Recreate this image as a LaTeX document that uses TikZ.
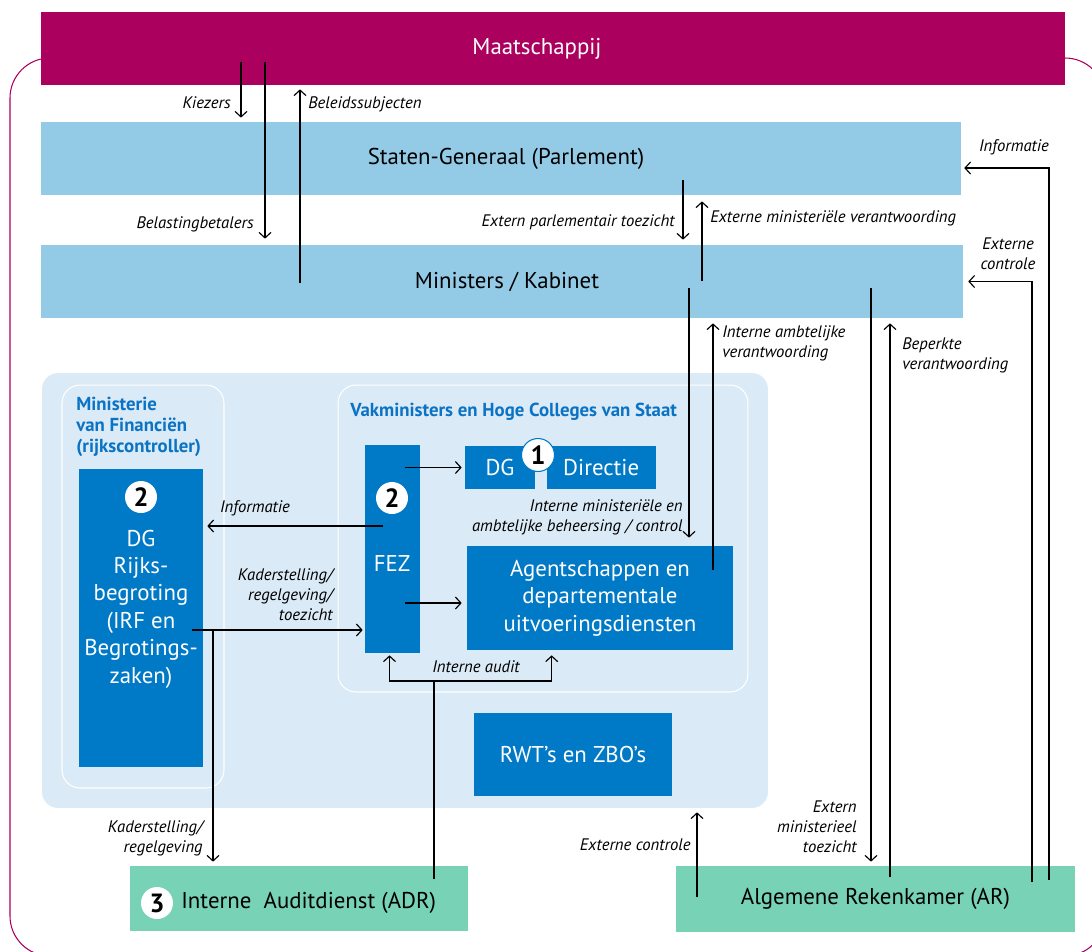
\documentclass[tikz,border=0pt]{standalone}
\usepackage{fontspec}
\setmainfont{PT Sans}
\usepackage{xcolor}
\definecolor{societyMagenta}{HTML}{AB005E}
\definecolor{barBlue}{HTML}{93CBE7}
\definecolor{panelBg}{HTML}{DAEAF6}
\definecolor{unitBlue}{HTML}{0079C7}
\definecolor{titleBlue}{HTML}{0B73C4}
\definecolor{auditGreen}{HTML}{77D2B6}
\usetikzlibrary{positioning,calc,arrows.meta}
\tikzset{%
  societyBox/.style={%
    rectangle,
    fill=societyMagenta,
    text=white,
    minimum height=1.46cm,
    font=\fontsize{13}{16}\selectfont
  },
  barBox/.style={%
    rectangle,
    fill=barBlue,
    minimum height=1.46cm,
    font=\fontsize{13}{16}\selectfont
  },
  panelBox/.style={%
    rectangle,
    rounded corners=0.32cm,
    fill=panelBg
  },
  groupBox/.style={%
    rectangle,
    rounded corners=0.36cm,
    draw=white,
    line width=0.6pt
  },
  groupTitle/.style={%
    text=titleBlue,
    inner sep=0pt,
    align=left,
    font=\bfseries\fontsize{10.7}{12}\selectfont
  },
  unitBox/.style={%
    rectangle,
    fill=unitBlue,
    text=white,
    align=center,
    font=\fontsize{13}{15.6}\selectfont
  },
  unitText/.style={%
    text=white,
    align=center,
    inner sep=0pt,
    font=\fontsize{13}{15.6}\selectfont
  },
  auditBox/.style={%
    rectangle,
    fill=auditGreen,
    minimum height=1.3cm,
    font=\fontsize{13}{16}\selectfont
  },
  badge/.style={%
    circle,
    fill=white,
    inner sep=0pt,
    minimum size=0.64cm,
    font=\bfseries\fontsize{15}{15}\selectfont
  },
  flowLabel/.style={%
    inner sep=0pt,
    font=\itshape\fontsize{9.5}{11.4}\selectfont
  },
  arrowLine/.style={%
    -{Straight Barb[length=1.1mm,width=2.4mm]},
    line width=0.65pt
  },
  plainLine/.style={%
    line width=0.65pt
  }
}

\begin{document}
\begin{tikzpicture}[x=0.02cm, y=-0.02cm]
  \useasboundingbox (0,0) rectangle (1092,951);

  % Outer border
  \begin{scope}
    \clip (0,0) rectangle (1092,951);
    \draw[societyMagenta, line width=0.6pt, rounded corners=0.8cm] (10,58) rectangle (1105,956);
  \end{scope}

  % Society, parliament and cabinet
  \node[societyBox, minimum width=20.48cm] (maatschappij) at (553,48.5) {Maatschappij\hspace*{0.64cm}};
  \node[barBox, minimum width=18.4cm] (staten) at (501,158.5) {\hspace*{0.2cm}Staten-Generaal (Parlement)};
  \node[barBox, minimum width=18.44cm] (kabinet) at (502,281.5) {\hspace*{0.2cm}Ministers / Kabinet};

  % Ministries panel
  \node[panelBox, minimum width=14.52cm, minimum height=8.7cm] (panel) at (405,590.5) {};
  \node[groupBox, minimum width=3.24cm, minimum height=8.06cm] (minfin) at (143,586.5) {};
  \node[groupBox, minimum width=8.2cm, minimum height=6.14cm] (vakmin) at (543,538.5) {};
  \node[groupTitle, anchor=north west] (minfinTitle) at (76,397) {Ministerie\\van Financiën\\(rijkscontroller)};
  \node[groupTitle, anchor=west] (vakminTitle) at (350,412) {Vakministers en Hoge Colleges van Staat};

  % Ministry of Finance
  \node[unitBox, minimum width=2.48cm, minimum height=5.96cm] (dgRijks) at (141,618) {};
  \node[badge] (badgeRijks) at (141,497) {2};
  \node[unitText] (dgRijksText) at (141,609) {DG\\Rijks-\\begroting\\(IRF en\\Begrotings-\\zaken)};

  % Line ministries
  \node[unitBox, minimum width=1.1cm, minimum height=4.16cm] (fez) at (392.5,549) {};
  \node[badge] (badgeFez) at (392,498) {2};
  \node[unitText] (fezText) at (392,563) {FEZ};
  \node[unitBox, minimum width=1.4cm, minimum height=0.86cm] (dg) at (500,467.5) {DG};
  \node[unitBox, minimum width=2.18cm, minimum height=0.86cm, right=0.22cm of dg] (directie) {Directie};
  \node[badge, draw=unitBlue, line width=0.6pt, minimum size=0.66cm] (badgeDg) at (538,455) {1};
  \node[unitBox, minimum width=5.32cm, minimum height=2.08cm] (agent) at (600,598) {Agentschappen en\\departementale\\uitvoeringsdiensten};
  \node[unitBox, minimum width=3.96cm, minimum height=1.66cm] (rwt) at (573,754.5) {RWT’s en ZBO’s};

  % Audit bodies
  \node[auditBox, minimum width=6.76cm] (adr) at (299,898.5) {};
  \node[badge] (badgeAdr) at (157,903) {3};
  \node[anchor=west, inner sep=0pt, font=\fontsize{13}{16}\selectfont] (adrText) at (181,903) {Interne\ \ Auditdienst (ADR)};
  \node[auditBox, minimum width=7.98cm, minimum height=1.32cm] (ar) at (875.5,899) {Algemene Rekenkamer (AR)};

  % Society <-> parliament
  \coordinate (kiezersStart) at (241,62);
  \draw[arrowLine, shorten >=0.08cm] (kiezersStart) -- (kiezersStart |- staten.north);
  \node[flowLabel, anchor=east] (lblKiezers) at (231,103) {Kiezers};

  \coordinate (belastingStart) at (265,62);
  \draw[arrowLine, shorten >=0.12cm] (belastingStart) -- (belastingStart |- kabinet.north);
  \node[flowLabel, anchor=east] (lblBelasting) at (254,224) {Belastingbetalers};

  \coordinate (beleidStart) at (300,283);
  \draw[arrowLine, shorten >=0.08cm] (beleidStart) -- (beleidStart |- maatschappij.south);
  \node[flowLabel, anchor=west] (lblBeleid) at (308,104) {Beleidssubjecten};

  % Parliament <-> cabinet
  \coordinate (toezichtStart) at (683,180);
  \draw[arrowLine, shorten >=0.1cm] (toezichtStart) -- (toezichtStart |- kabinet.north);
  \node[flowLabel, anchor=east] (lblToezicht) at (675,222) {Extern parlementair toezicht};

  \coordinate (verantwStart) at (702,281);
  \draw[arrowLine, shorten >=0.12cm] (verantwStart) -- (verantwStart |- staten.south);
  \node[flowLabel, anchor=west] (lblVerantw) at (710,218) {Externe ministeriële verantwoording};

  % Rekenkamer
  \coordinate (arInfo) at (1049,880);
  \draw[arrowLine, shorten >=0.06cm] (arInfo) |- ($(staten.east)+(0,9.5)$);
  \node[flowLabel] (lblArInfo) at (1014,147) {Informatie};

  \coordinate (arControle) at (1032,882);
  \draw[arrowLine, shorten >=0.1cm] (arControle) |- (kabinet.east);
  \node[flowLabel, align=center] (lblArControle) at (1008,254) {Externe\\controle};

  \coordinate (kabToezicht) at (871,288);
  \draw[arrowLine, shorten >=0.08cm] (kabToezicht) -- (kabToezicht |- ar.north);
  \node[flowLabel, anchor=east, align=right] (lblKabToezicht) at (857,827) {Extern\\ministerieel\\toezicht};

  \coordinate (arBeperkt) at (890,877);
  \draw[arrowLine, shorten >=0.1cm] (arBeperkt) -- (arBeperkt |- kabinet.south);
  \node[flowLabel, anchor=west, align=left] (lblBeperkt) at (902,355) {Beperkte\\verantwoording};

  \coordinate (arExtern) at (697,897);
  \draw[arrowLine, shorten >=0.08cm] (arExtern) -- (arExtern |- panel.south);
  \node[flowLabel, anchor=east] (lblArExtern) at (691,845) {Externe controle};

  % Cabinet <-> agencies
  \coordinate (kabBeheersing) at (689,288);
  \draw[arrowLine, shorten >=0.16cm] (kabBeheersing) -- (kabBeheersing |- agent.north);
  \node[flowLabel, anchor=east, align=right] (lblBeheersing) at (683,517) {Interne ministeriële en\\ambtelijke beheersing / control};

  \coordinate (agentVerantw) at (713,570);
  \draw[arrowLine, shorten >=0.1cm] (agentVerantw) -- (agentVerantw |- kabinet.south);
  \node[flowLabel, anchor=west, align=left] (lblAgentVerantw) at (722,343) {Interne ambtelijke\\verantwoording};

  % FEZ links
  \coordinate (fezToDg) at (405,467.5);
  \draw[arrowLine, shorten >=0.06cm] (fezToDg) -- (dg.west);
  \coordinate (fezToAgent) at (405,603);
  \draw[arrowLine, shorten >=0.1cm] (fezToAgent) -- (fezToAgent -| agent.west);

  \coordinate (fezInfo) at (383,526);
  \draw[arrowLine, shorten >=0.08cm] (fezInfo) -- (fezInfo -| dgRijks.east);
  \node[flowLabel] (lblFezInfo) at (255,508) {Informatie};

  \coordinate (dgKader) at (192,630);
  \draw[arrowLine, shorten >=0.04cm] (dgKader) -- (dgKader -| fez.west);
  \node[flowLabel, anchor=east, align=right] (lblKader) at (333,595) {Kaderstelling/\\regelgeving/\\toezicht};

  \coordinate (kaderSplit) at (213,630);
  \draw[arrowLine, shorten >=0.08cm] (kaderSplit) -- (kaderSplit |- adr.north);
  \node[flowLabel, anchor=east, align=right] (lblKaderAdr) at (203,838) {Kaderstelling/\\regelgeving};

  % Internal audit
  \coordinate (adrAudit) at (434,879);
  \coordinate (auditSplit) at (434,681);
  \draw[plainLine] (adrAudit) -- (auditSplit);
  \draw[arrowLine, shorten >=0.04cm] (auditSplit) -| ($(fez.south)+(-3,0)$);
  \draw[arrowLine, shorten >=0.1cm] (auditSplit) -| ($(agent.south west)+(85,0)$);
  \node[flowLabel] (lblAudit) at (476,667) {Interne audit};
\end{tikzpicture}
\end{document}
